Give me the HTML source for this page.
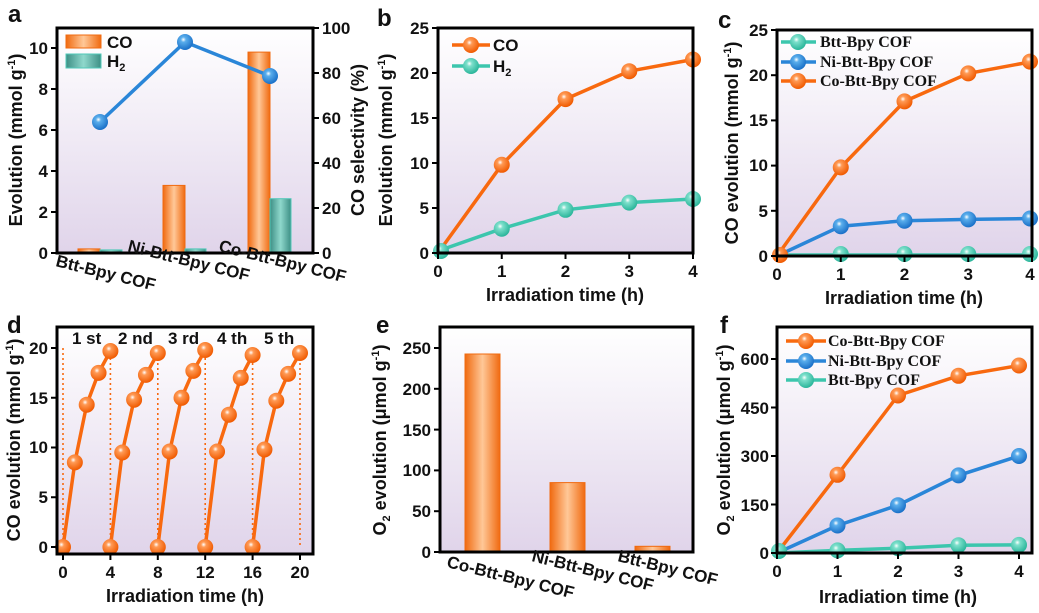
<!DOCTYPE html>
<html><head><meta charset="utf-8"><style>
html,body{margin:0;padding:0;background:#fff}
svg{display:block}
text{font-family:"Liberation Sans",Arial,sans-serif;font-weight:bold;fill:#111}
.t{font-size:17px}
.ax{font-size:18px}
.lg{font-family:"Liberation Serif",serif;font-size:16px}
.pl{font-size:24px}
</style></head><body>
<svg width="1039" height="613" viewBox="0 0 1039 613" xmlns="http://www.w3.org/2000/svg">
<defs>
<linearGradient id="bg" x1="0" y1="0" x2="0" y2="1"><stop offset="0" stop-color="#ffffff"/><stop offset="1" stop-color="#e0d4ea"/></linearGradient>
<radialGradient id="go" cx="0.4" cy="0.35" r="0.65"><stop offset="0" stop-color="#fff"/><stop offset="0.25" stop-color="#ff9a55"/><stop offset="1" stop-color="#f05a00"/></radialGradient>
<radialGradient id="gt" cx="0.4" cy="0.35" r="0.65"><stop offset="0" stop-color="#fff"/><stop offset="0.25" stop-color="#7ee0cc"/><stop offset="1" stop-color="#2ab59a"/></radialGradient>
<radialGradient id="gb" cx="0.4" cy="0.35" r="0.65"><stop offset="0" stop-color="#fff"/><stop offset="0.25" stop-color="#5aaeec"/><stop offset="1" stop-color="#1a70c8"/></radialGradient>
<linearGradient id="bo" x1="0" y1="0" x2="1" y2="0"><stop offset="0" stop-color="#f06a10"/><stop offset="0.5" stop-color="#ffc898"/><stop offset="1" stop-color="#f06a10"/></linearGradient>
<linearGradient id="bt" x1="0" y1="0" x2="1" y2="0"><stop offset="0" stop-color="#3d8f85"/><stop offset="0.5" stop-color="#8fd8cc"/><stop offset="1" stop-color="#3d8f85"/></linearGradient>
<g id="so"><circle r="8" fill="url(#go)"/></g>
<g id="st"><circle r="8" fill="url(#gt)"/></g>
<g id="sb"><circle r="8" fill="url(#gb)"/></g>
</defs>

<!-- ===== a ===== -->
<rect x="57" y="28" width="256" height="225" fill="url(#bg)"/>
<rect x="78" y="248.9" width="22" height="4.1" fill="url(#bo)" stroke="#f06a10" stroke-width="1"/>
<rect x="100" y="249.9" width="22" height="3.1" fill="url(#bt)" stroke="#50c8b8" stroke-width="1"/>
<rect x="163" y="185.4" width="22" height="67.6" fill="url(#bo)" stroke="#f06a10" stroke-width="1"/>
<rect x="185" y="248.9" width="21" height="4.1" fill="url(#bt)" stroke="#50c8b8" stroke-width="1"/>
<rect x="248" y="52.1" width="22" height="200.9" fill="url(#bo)" stroke="#f06a10" stroke-width="1"/>
<rect x="270" y="198.7" width="21" height="54.3" fill="url(#bt)" stroke="#50c8b8" stroke-width="1"/>
<rect x="66" y="35" width="35" height="13" fill="url(#bo)" stroke="#f06a10"/>
<rect x="66" y="54" width="35" height="14" fill="url(#bt)" stroke="#50c8b8"/>
<text x="107" y="48" class="t">CO</text>
<text x="107" y="67" class="t">H<tspan font-size="11" dy="4">2</tspan></text>
<polyline points="100,122 185,42 270,76" fill="none" stroke="#2a86d8" stroke-width="3.5"/>
<use href="#sb" x="100" y="122"/><use href="#sb" x="185" y="42"/><use href="#sb" x="270" y="76"/>
<rect x="57" y="28" width="256" height="225" fill="none" stroke="#000" stroke-width="3"/>
<g stroke="#000" stroke-width="2">
<line x1="51" y1="253" x2="57" y2="253"/><line x1="51" y1="212" x2="57" y2="212"/><line x1="51" y1="171" x2="57" y2="171"/><line x1="51" y1="130" x2="57" y2="130"/><line x1="51" y1="89" x2="57" y2="89"/><line x1="51" y1="48" x2="57" y2="48"/>
<line x1="313" y1="253" x2="319" y2="253"/><line x1="313" y1="208" x2="319" y2="208"/><line x1="313" y1="163" x2="319" y2="163"/><line x1="313" y1="118" x2="319" y2="118"/><line x1="313" y1="73" x2="319" y2="73"/><line x1="313" y1="28" x2="319" y2="28"/>
</g>
<g class="t" text-anchor="end">
<text x="48" y="259">0</text><text x="48" y="218">2</text><text x="48" y="177">4</text><text x="48" y="136">6</text><text x="48" y="95">8</text><text x="48" y="54">10</text>
</g>
<g class="t">
<text x="322" y="259">0</text><text x="322" y="214">20</text><text x="322" y="169">40</text><text x="322" y="124">60</text><text x="322" y="79">80</text><text x="322" y="34">100</text>
</g>
<text class="ax" transform="translate(22,140) rotate(-90)" text-anchor="middle">Evolution (mmol g<tspan font-size="11" dy="-7">-1</tspan><tspan dy="7">)</tspan></text>
<text class="ax" transform="translate(364,140) rotate(-90)" text-anchor="middle">CO selectivity (%)</text>
<text class="t" transform="translate(55,266) rotate(14)">Btt-Bpy COF</text>
<text class="t" transform="translate(127,251) rotate(14)">Ni-Btt-Bpy COF</text>
<text class="t" transform="translate(218,251) rotate(14)">Co-Btt-Bpy COF</text>
<text x="8" y="22" class="pl">a</text>

<!-- ===== b ===== -->
<rect x="438" y="28" width="255" height="225" fill="url(#bg)"/>
<polyline points="438,253 501.75,164.8 565.5,99.1 629.25,71.2 693,59.5" fill="none" stroke="#f8690f" stroke-width="3.5"/>
<polyline points="438,251 501.75,228.7 565.5,209.8 629.25,202.6 693,199" fill="none" stroke="#3cc6ad" stroke-width="3.5"/>
<use href="#st" x="441" y="251"/><use href="#st" x="501.75" y="228.7"/><use href="#st" x="565.5" y="209.8"/><use href="#st" x="629.25" y="202.6"/><use href="#st" x="693" y="199"/>
<use href="#so" x="501.75" y="164.8"/><use href="#so" x="565.5" y="99.1"/><use href="#so" x="629.25" y="71.2"/><use href="#so" x="693" y="59.5"/>
<line x1="452" y1="45" x2="490" y2="45" stroke="#f8690f" stroke-width="3.5"/><use href="#so" x="471" y="45"/>
<line x1="452" y1="66" x2="490" y2="66" stroke="#3cc6ad" stroke-width="3.5"/><use href="#st" x="471" y="66"/>
<text x="493" y="51" class="t">CO</text>
<text x="493" y="72" class="t">H<tspan font-size="11" dy="4">2</tspan></text>
<rect x="438" y="28" width="255" height="225" fill="none" stroke="#000" stroke-width="3"/>
<g stroke="#000" stroke-width="2">
<line x1="432" y1="253" x2="438" y2="253"/><line x1="432" y1="208" x2="438" y2="208"/><line x1="432" y1="163" x2="438" y2="163"/><line x1="432" y1="118" x2="438" y2="118"/><line x1="432" y1="73" x2="438" y2="73"/><line x1="432" y1="28" x2="438" y2="28"/>
<line x1="438" y1="253" x2="438" y2="259"/><line x1="501.75" y1="253" x2="501.75" y2="259"/><line x1="565.5" y1="253" x2="565.5" y2="259"/><line x1="629.25" y1="253" x2="629.25" y2="259"/><line x1="693" y1="253" x2="693" y2="259"/>
</g>
<g class="t" text-anchor="end">
<text x="429" y="259">0</text><text x="429" y="214">5</text><text x="429" y="169">10</text><text x="429" y="124">15</text><text x="429" y="79">20</text><text x="429" y="34">25</text>
</g>
<g class="t" text-anchor="middle">
<text x="438" y="277">0</text><text x="501.75" y="277">1</text><text x="565.5" y="277">2</text><text x="629.25" y="277">3</text><text x="693" y="277">4</text>
</g>
<text class="ax" transform="translate(392,140) rotate(-90)" text-anchor="middle">Evolution (mmol g<tspan font-size="11" dy="-7">-1</tspan><tspan dy="7">)</tspan></text>
<text class="ax" x="565" y="301" text-anchor="middle">Irradiation time (h)</text>
<text x="377" y="26" class="pl">b</text>

<!-- ===== c ===== -->
<rect x="777" y="30" width="255" height="226" fill="url(#bg)"/>
<polyline points="777,256 840.75,167.4 904.5,101.4 968.25,73.4 1032,61.6" fill="none" stroke="#f8690f" stroke-width="3.5"/>
<polyline points="777,256 840.75,226.2 904.5,220.7 968.25,219.4 1032,218.5" fill="none" stroke="#2a86d8" stroke-width="3.5"/>
<polyline points="777,255 1032,255" fill="none" stroke="#3cc6ad" stroke-width="3.5"/>
<use href="#st" x="840.75" y="254"/><use href="#st" x="904.5" y="254"/><use href="#st" x="968.25" y="254"/><use href="#st" x="1030" y="254"/>
<use href="#sb" x="840.75" y="226.2"/><use href="#sb" x="904.5" y="220.7"/><use href="#sb" x="968.25" y="219.4"/><use href="#sb" x="1030" y="218.5"/>
<use href="#so" x="780" y="255"/><use href="#so" x="840.75" y="167.4"/><use href="#so" x="904.5" y="101.4"/><use href="#so" x="968.25" y="73.4"/><use href="#so" x="1030" y="61.6"/>
<line x1="781" y1="42" x2="816" y2="42" stroke="#3cc6ad" stroke-width="3.5"/><use href="#st" x="798" y="42"/>
<line x1="781" y1="62" x2="816" y2="62" stroke="#2a86d8" stroke-width="3.5"/><use href="#sb" x="798" y="62"/>
<line x1="781" y1="81" x2="816" y2="81" stroke="#f8690f" stroke-width="3.5"/><use href="#so" x="798" y="81"/>
<text x="820" y="47" class="lg">Btt-Bpy COF</text>
<text x="820" y="67" class="lg">Ni-Btt-Bpy COF</text>
<text x="820" y="86" class="lg">Co-Btt-Bpy COF</text>
<rect x="777" y="30" width="255" height="226" fill="none" stroke="#000" stroke-width="3"/>
<g stroke="#000" stroke-width="2">
<line x1="771" y1="256" x2="777" y2="256"/><line x1="771" y1="210.8" x2="777" y2="210.8"/><line x1="771" y1="165.6" x2="777" y2="165.6"/><line x1="771" y1="120.4" x2="777" y2="120.4"/><line x1="771" y1="75.2" x2="777" y2="75.2"/><line x1="771" y1="30" x2="777" y2="30"/>
<line x1="777" y1="256" x2="777" y2="262"/><line x1="840.75" y1="256" x2="840.75" y2="262"/><line x1="904.5" y1="256" x2="904.5" y2="262"/><line x1="968.25" y1="256" x2="968.25" y2="262"/><line x1="1032" y1="256" x2="1032" y2="262"/>
</g>
<g class="t" text-anchor="end">
<text x="768" y="262">0</text><text x="768" y="217">5</text><text x="768" y="171">10</text><text x="768" y="126">15</text><text x="768" y="81">20</text><text x="768" y="36">25</text>
</g>
<g class="t" text-anchor="middle">
<text x="777" y="280">0</text><text x="840.75" y="280">1</text><text x="904.5" y="280">2</text><text x="968.25" y="280">3</text><text x="1030" y="280">4</text>
</g>
<text class="ax" transform="translate(738,143) rotate(-90)" text-anchor="middle">CO evolution (mmol g<tspan font-size="11" dy="-7">-1</tspan><tspan dy="7">)</tspan></text>
<text class="ax" x="904" y="304" text-anchor="middle">Irradiation time (h)</text>
<text x="718" y="28" class="pl">c</text>

<!-- ===== d ===== -->
<rect x="57" y="327" width="256" height="227" fill="url(#bg)"/>
<g stroke="#f8690f" stroke-width="1.6" stroke-dasharray="2,3">
<line x1="63" y1="348" x2="63" y2="547"/><line x1="110.4" y1="348" x2="110.4" y2="547"/><line x1="157.8" y1="348" x2="157.8" y2="547"/><line x1="205.2" y1="348" x2="205.2" y2="547"/><line x1="252.6" y1="348" x2="252.6" y2="547"/><line x1="300" y1="348" x2="300" y2="547"/>
</g>
<g fill="none" stroke="#f8690f" stroke-width="3.5">
<polyline points="63,547 74.85,462.4 86.7,404.7 98.55,372.9 110.4,351"/>
<polyline points="110.4,547 122.25,452.5 134.1,399.7 145.95,374.9 157.8,353"/>
<polyline points="157.8,547 169.65,451.5 181.5,397.8 193.35,370.9 205.2,350"/>
<polyline points="205.2,547 217.05,451.5 228.9,414.7 240.75,377.9 252.6,355"/>
<polyline points="252.6,547 264.45,449.5 276.3,400.7 288.15,373.9 300,353"/>
</g>
<use href="#so" x="63" y="547"/><use href="#so" x="74.85" y="462.4"/><use href="#so" x="86.7" y="404.7"/><use href="#so" x="98.55" y="372.9"/><use href="#so" x="110.4" y="351"/>
<use href="#so" x="110.4" y="547"/><use href="#so" x="122.25" y="452.5"/><use href="#so" x="134.1" y="399.7"/><use href="#so" x="145.95" y="374.9"/><use href="#so" x="157.8" y="353"/>
<use href="#so" x="157.8" y="547"/><use href="#so" x="169.65" y="451.5"/><use href="#so" x="181.5" y="397.8"/><use href="#so" x="193.35" y="370.9"/><use href="#so" x="205.2" y="350"/>
<use href="#so" x="205.2" y="547"/><use href="#so" x="217.05" y="451.5"/><use href="#so" x="228.9" y="414.7"/><use href="#so" x="240.75" y="377.9"/><use href="#so" x="252.6" y="355"/>
<use href="#so" x="252.6" y="547"/><use href="#so" x="264.45" y="449.5"/><use href="#so" x="276.3" y="400.7"/><use href="#so" x="288.15" y="373.9"/><use href="#so" x="300" y="353"/>
<g class="t" font-size="15">
<text x="72" y="344">1 st</text><text x="118" y="344">2 nd</text><text x="168" y="344">3 rd</text><text x="217" y="344">4 th</text><text x="264" y="344">5 th</text>
</g>
<rect x="57" y="327" width="256" height="227" fill="none" stroke="#000" stroke-width="3"/>
<g stroke="#000" stroke-width="2">
<line x1="51" y1="547" x2="57" y2="547"/><line x1="51" y1="497.25" x2="57" y2="497.25"/><line x1="51" y1="447.5" x2="57" y2="447.5"/><line x1="51" y1="397.75" x2="57" y2="397.75"/><line x1="51" y1="348" x2="57" y2="348"/>
<line x1="63" y1="554" x2="63" y2="560"/><line x1="110.4" y1="554" x2="110.4" y2="560"/><line x1="157.8" y1="554" x2="157.8" y2="560"/><line x1="205.2" y1="554" x2="205.2" y2="560"/><line x1="252.6" y1="554" x2="252.6" y2="560"/><line x1="300" y1="554" x2="300" y2="560"/>
</g>
<g class="t" text-anchor="end">
<text x="48" y="553">0</text><text x="48" y="503">5</text><text x="48" y="453">10</text><text x="48" y="404">15</text><text x="48" y="354">20</text>
</g>
<g class="t" text-anchor="middle">
<text x="63" y="578">0</text><text x="110.4" y="578">4</text><text x="157.8" y="578">8</text><text x="205.2" y="578">12</text><text x="252.6" y="578">16</text><text x="300" y="578">20</text>
</g>
<text class="ax" transform="translate(20,440) rotate(-90)" text-anchor="middle">CO evolution (mmol g<tspan font-size="11" dy="-7">-1</tspan><tspan dy="7">)</tspan></text>
<text class="ax" x="185" y="602" text-anchor="middle">Irradiation time (h)</text>
<text x="7" y="333" class="pl">d</text>

<!-- ===== e ===== -->
<rect x="440" y="327" width="253" height="225" fill="url(#bg)"/>
<rect x="465" y="354" width="35" height="198" fill="url(#bo)" stroke="#f06a10"/>
<rect x="550" y="482.6" width="35" height="69.4" fill="url(#bo)" stroke="#f06a10"/>
<rect x="635" y="546.3" width="35" height="5.7" fill="url(#bo)" stroke="#f06a10"/>
<rect x="440" y="327" width="253" height="225" fill="none" stroke="#000" stroke-width="3"/>
<g stroke="#000" stroke-width="2">
<line x1="434" y1="552" x2="440" y2="552"/><line x1="434" y1="511.2" x2="440" y2="511.2"/><line x1="434" y1="470.4" x2="440" y2="470.4"/><line x1="434" y1="429.6" x2="440" y2="429.6"/><line x1="434" y1="388.8" x2="440" y2="388.8"/><line x1="434" y1="348" x2="440" y2="348"/>
</g>
<g class="t" text-anchor="end">
<text x="431" y="558">0</text><text x="431" y="517">50</text><text x="431" y="476">100</text><text x="431" y="436">150</text><text x="431" y="395">200</text><text x="431" y="354">250</text>
</g>
<text class="ax" transform="translate(386,440) rotate(-90)" text-anchor="middle">O<tspan font-size="11" dy="4">2</tspan><tspan dy="-4"> evolution (μmol g</tspan><tspan font-size="11" dy="-7">-1</tspan><tspan dy="7">)</tspan></text>
<text class="t" transform="translate(446,567) rotate(14)">Co-Btt-Bpy COF</text>
<text class="t" transform="translate(531,561) rotate(14)">Ni-Btt-Bpy COF</text>
<text class="t" transform="translate(617,561) rotate(14)">Btt-Bpy COF</text>
<text x="376" y="333" class="pl">e</text>

<!-- ===== f ===== -->
<rect x="777" y="327" width="255" height="226" fill="url(#bg)"/>
<polyline points="777,553 837.5,474.8 898,395.5 958.5,375.8 1019,365.5" fill="none" stroke="#f8690f" stroke-width="3.5"/>
<polyline points="777,553 837.5,525.5 898,505.2 958.5,475.4 1019,456" fill="none" stroke="#2a86d8" stroke-width="3.5"/>
<polyline points="777,553 837.5,550.4 898,548.2 958.5,545.2 1019,544.9" fill="none" stroke="#3cc6ad" stroke-width="3.5"/>
<use href="#st" x="779" y="551"/><use href="#st" x="837.5" y="550.4"/><use href="#st" x="898" y="548.2"/><use href="#st" x="958.5" y="545.2"/><use href="#st" x="1019" y="544.9"/>
<use href="#sb" x="837.5" y="525.5"/><use href="#sb" x="898" y="505.2"/><use href="#sb" x="958.5" y="475.4"/><use href="#sb" x="1019" y="456"/>
<use href="#so" x="837.5" y="474.8"/><use href="#so" x="898" y="395.5"/><use href="#so" x="958.5" y="375.8"/><use href="#so" x="1019" y="365.5"/>
<line x1="786" y1="341" x2="826" y2="341" stroke="#f8690f" stroke-width="3.5"/><use href="#so" x="806" y="341"/>
<line x1="786" y1="361" x2="826" y2="361" stroke="#2a86d8" stroke-width="3.5"/><use href="#sb" x="806" y="361"/>
<line x1="786" y1="380" x2="826" y2="380" stroke="#3cc6ad" stroke-width="3.5"/><use href="#st" x="806" y="380"/>
<text x="828" y="346" class="lg">Co-Btt-Bpy COF</text>
<text x="828" y="366" class="lg">Ni-Btt-Bpy COF</text>
<text x="828" y="385" class="lg">Btt-Bpy COF</text>
<rect x="777" y="327" width="255" height="226" fill="none" stroke="#000" stroke-width="3"/>
<g stroke="#000" stroke-width="2">
<line x1="771" y1="553" x2="777" y2="553"/><line x1="771" y1="504.5" x2="777" y2="504.5"/><line x1="771" y1="456" x2="777" y2="456"/><line x1="771" y1="407.5" x2="777" y2="407.5"/><line x1="771" y1="359" x2="777" y2="359"/>
<line x1="777" y1="553" x2="777" y2="559"/><line x1="837.5" y1="553" x2="837.5" y2="559"/><line x1="898" y1="553" x2="898" y2="559"/><line x1="958.5" y1="553" x2="958.5" y2="559"/><line x1="1019" y1="553" x2="1019" y2="559"/>
</g>
<g class="t" text-anchor="end">
<text x="769" y="559">0</text><text x="769" y="511">150</text><text x="769" y="462">300</text><text x="769" y="414">450</text><text x="769" y="365">600</text>
</g>
<g class="t" text-anchor="middle">
<text x="777" y="577">0</text><text x="837.5" y="577">1</text><text x="898" y="577">2</text><text x="958.5" y="577">3</text><text x="1019" y="577">4</text>
</g>
<text class="ax" transform="translate(730,440) rotate(-90)" text-anchor="middle">O<tspan font-size="11" dy="4">2</tspan><tspan dy="-4"> evolution (μmol g</tspan><tspan font-size="11" dy="-7">-1</tspan><tspan dy="7">)</tspan></text>
<text class="ax" x="898" y="603" text-anchor="middle">Irradiation time (h)</text>
<text x="720" y="333" class="pl">f</text>
</svg>
</body></html>
